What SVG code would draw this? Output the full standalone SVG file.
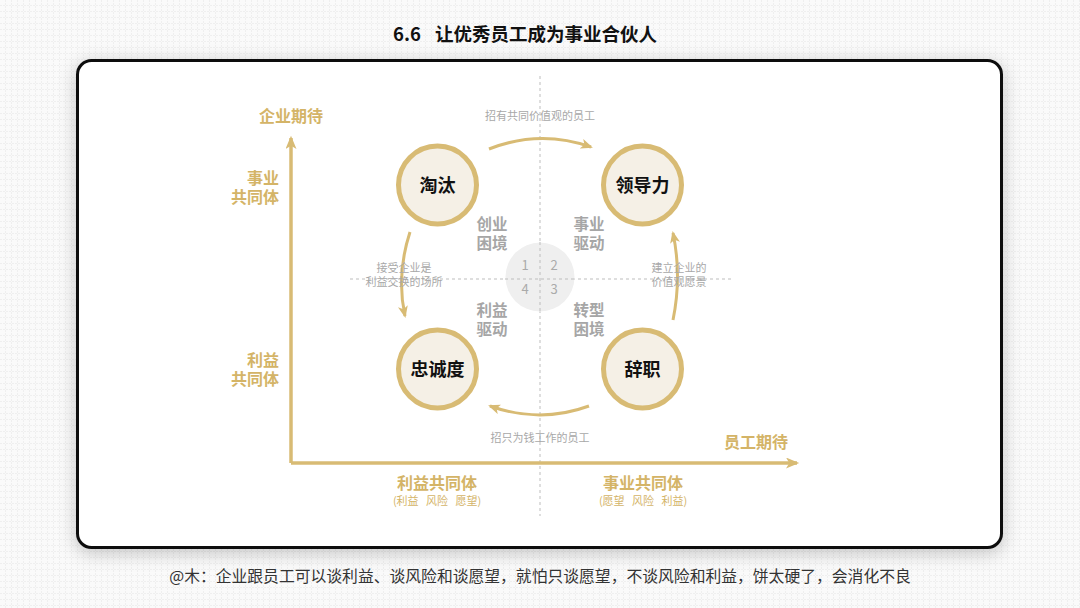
<svg xmlns="http://www.w3.org/2000/svg" width="1080" height="608" viewBox="0 0 1080 608">
<defs>
<pattern id="grid" width="6" height="6" patternUnits="userSpaceOnUse">
<path d="M6 0V6M0 6H6" fill="none" stroke="#e4e4e4" stroke-width="1" stroke-dasharray="2 1"/>
</pattern>
<filter id="shadow" x="-10%" y="-10%" width="120%" height="125%">
<feDropShadow dx="0" dy="4" stdDeviation="9" flood-color="#000" flood-opacity="0.22"/>
</filter>
<marker id="ah" viewBox="0 0 12 10" refX="10" refY="5" markerWidth="12" markerHeight="10" markerUnits="userSpaceOnUse" orient="auto">
<path d="M0,0 L12,5 L0,10 L3,5 Z" fill="#d8bb74"/>
</marker>
<marker id="axh" viewBox="0 0 12 10" refX="10" refY="5" markerWidth="14" markerHeight="11" markerUnits="userSpaceOnUse" orient="auto">
<path d="M0,0 L12,5 L0,10 L3,5 Z" fill="#d8bb74"/>
</marker>
</defs>
<style>
text{font-family:"Noto Sans CJK SC","Noto Sans",sans-serif}
.title{font-size:18.5px;font-weight:bold;fill:#111}
.gold{fill:#d4b467;font-weight:bold;font-size:16px}
.goldS{fill:#d4b467;font-size:11px;white-space:pre}
.quad{fill:#a6a6a6;font-weight:bold;font-size:15.5px}
.num{fill:#aaaaaa;font-size:13px}
.lab{fill:#a8a8a8;font-size:11px}
.node circle{fill:#f5f0e6;stroke:#d8bb74;stroke-width:5}
.node text{font-size:18px;font-weight:bold;fill:#111}
.arc{fill:none;stroke:#d8bb74;stroke-width:3}
.dash{stroke:#bdbdbd;stroke-width:1;stroke-dasharray:3 3}
.foot{font-size:15.8px;fill:#333}
</style>
<rect width="1080" height="608" fill="#fafafa"/>
<rect width="1080" height="608" fill="url(#grid)"/>
<text class="title" y="41"><tspan x="393">6.6</tspan><tspan x="435">让优秀员工成为事业合伙人</tspan></text>
<rect x="77.5" y="60.5" width="924" height="487" rx="14" fill="#fff" stroke="#111" stroke-width="3" filter="url(#shadow)"/>

<g id="guides">
<line class="dash" x1="540" y1="76" x2="540" y2="516"/>
<line class="dash" x1="350" y1="279" x2="732" y2="279"/>
<circle cx="540" cy="277" r="34.5" fill="#efefef"/>
<line class="dash" x1="540" y1="242" x2="540" y2="312" stroke="#c4c4c4"/>
<line class="dash" x1="505" y1="279" x2="575" y2="279"/>
<text class="num" x="525" y="270" text-anchor="middle">1</text>
<text class="num" x="554" y="270" text-anchor="middle">2</text>
<text class="num" x="525" y="294" text-anchor="middle">4</text>
<text class="num" x="554" y="294" text-anchor="middle">3</text>
</g>

<g id="axes">
<path d="M291,463 V138" fill="none" stroke="#d8bb74" stroke-width="3.5" marker-end="url(#axh)"/>
<path d="M291,463 H797" fill="none" stroke="#d8bb74" stroke-width="3.5" marker-end="url(#axh)"/>
<text class="gold" x="291" y="122" text-anchor="middle">企业期待</text>
<text class="gold" text-anchor="end"><tspan x="279" y="184">事业</tspan><tspan x="279" y="203">共同体</tspan></text>
<text class="gold" text-anchor="end"><tspan x="279" y="366">利益</tspan><tspan x="279" y="385">共同体</tspan></text>
<text class="gold" x="756" y="448" text-anchor="middle">员工期待</text>
<text class="gold" x="437" y="489" text-anchor="middle">利益共同体</text>
<text class="goldS" x="437" y="505" text-anchor="middle">(利益   风险   愿望)</text>
<text class="gold" x="643" y="489" text-anchor="middle">事业共同体</text>
<text class="goldS" x="643" y="505" text-anchor="middle">(愿望   风险   利益)</text>
</g>

<g id="quadrants">
<text class="quad" text-anchor="middle"><tspan x="492" y="230">创业</tspan><tspan x="492" y="249">困境</tspan></text>
<text class="quad" text-anchor="middle"><tspan x="589" y="230">事业</tspan><tspan x="589" y="249">驱动</tspan></text>
<text class="quad" text-anchor="middle"><tspan x="492" y="316">利益</tspan><tspan x="492" y="335">驱动</tspan></text>
<text class="quad" text-anchor="middle"><tspan x="589" y="316">转型</tspan><tspan x="589" y="335">困境</tspan></text>
</g>

<g id="connectors">
<path class="arc" d="M489,149 Q540,129 591,147" marker-end="url(#ah)"/>
<path class="arc" d="M589,406 Q540,424 490,406" marker-end="url(#ah)"/>
<path class="arc" d="M410,232 Q396,275 405,316" marker-end="url(#ah)"/>
<path class="arc" d="M673,320 Q682,276 673,233" marker-end="url(#ah)"/>
<text class="lab" x="540" y="120" text-anchor="middle">招有共同价值观的员工</text>
<text class="lab" x="540" y="442" text-anchor="middle">招只为钱工作的员工</text>
<text class="lab" text-anchor="middle"><tspan x="404" y="272">接受企业是</tspan><tspan x="404" y="286">利益交换的场所</tspan></text>
<text class="lab" text-anchor="middle"><tspan x="679" y="272">建立企业的</tspan><tspan x="679" y="286">价值观愿景</tspan></text>
</g>

<g id="node-taotai" class="node">
<circle cx="437.5" cy="185" r="39"/>
<text x="437.5" y="191.5" text-anchor="middle">淘汰</text>
</g>
<g id="node-lingdaoli" class="node">
<circle cx="642.5" cy="185" r="39"/>
<text x="642.5" y="191.5" text-anchor="middle">领导力</text>
</g>
<g id="node-zhongchengdu" class="node">
<circle cx="437.5" cy="369" r="39"/>
<text x="437.5" y="375.5" text-anchor="middle">忠诚度</text>
</g>
<g id="node-cizhi" class="node">
<circle cx="642.5" cy="369" r="39"/>
<text x="642.5" y="375.5" text-anchor="middle">辞职</text>
</g>

<text class="foot" x="540" y="582" text-anchor="middle">@木：企业跟员工可以谈利益、谈风险和谈愿望，就怕只谈愿望，不谈风险和利益，饼太硬了，会消化不良</text>
</svg>
